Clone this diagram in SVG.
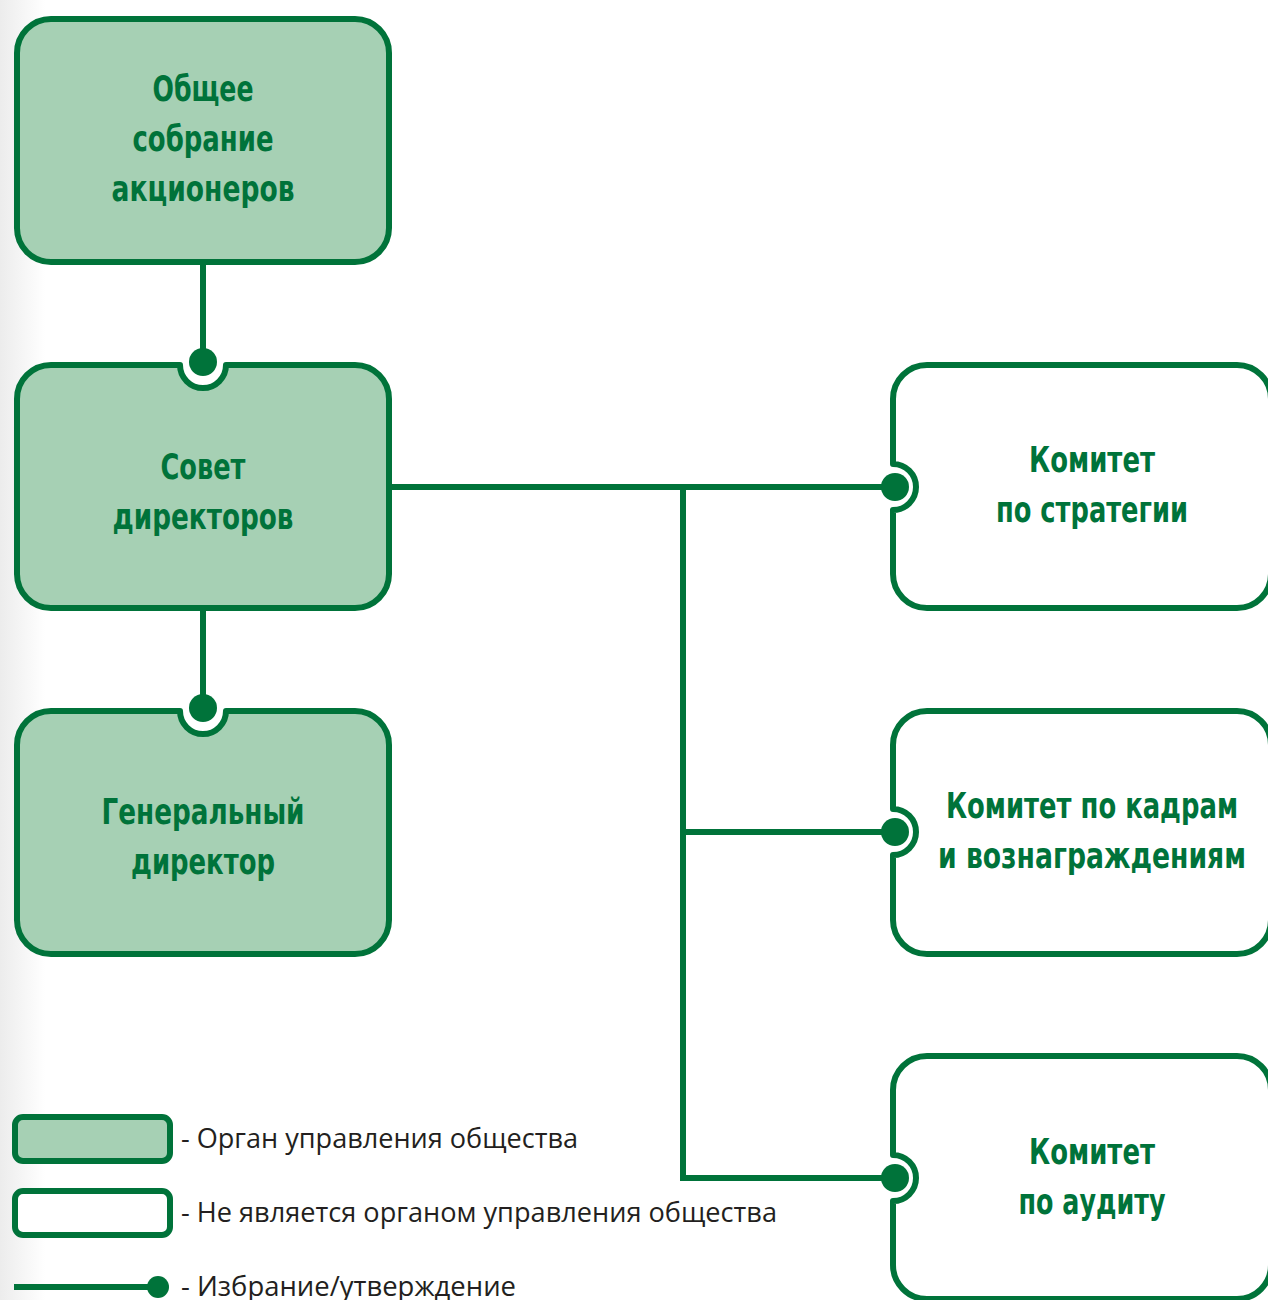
<svg xmlns="http://www.w3.org/2000/svg" width="1268" height="1300" viewBox="0 0 1268 1300">
<defs>
<linearGradient id="bg" x1="0" y1="0" x2="1" y2="0">
<stop offset="0" stop-color="#ececec"/>
<stop offset="1" stop-color="#ffffff"/>
</linearGradient>
<style>
.org{fill:#a6d0b4;stroke:#00733a;stroke-width:6;stroke-linejoin:round}
.com{fill:#ffffff;stroke:#00733a;stroke-width:6;stroke-linejoin:round}
.ln{fill:none;stroke:#00733a;stroke-width:6}
.dot{fill:#00733a}
.t{font-family:"DejaVu Sans Condensed","DejaVu Sans","Liberation Sans",sans-serif;font-stretch:condensed;font-weight:bold;font-size:35px;fill:#00733a;text-anchor:middle}
.lg{font-family:"Open Sans","Liberation Sans",sans-serif;font-size:27px;fill:#231f20}
</style>
</defs>
<rect x="0" y="0" width="45" height="1300" fill="url(#bg)"/>
<rect x="45" y="0" width="1223" height="1300" fill="#ffffff"/>

<g id="connectors">
<line class="ln" x1="203" y1="262" x2="203" y2="362"/>
<line class="ln" x1="203" y1="610" x2="203" y2="708"/>
<line class="ln" x1="392" y1="487" x2="895" y2="487"/>
<line class="ln" x1="683" y1="487" x2="683" y2="1178"/>
<line class="ln" x1="680" y1="832" x2="895" y2="832"/>
<line class="ln" x1="680" y1="1178" x2="895" y2="1178"/>
<circle class="dot" cx="203" cy="362" r="14"/>
<circle class="dot" cx="203" cy="708" r="14"/>
<circle class="dot" cx="895" cy="487" r="14"/>
<circle class="dot" cx="895" cy="832" r="14"/>
<circle class="dot" cx="895" cy="1178" r="14"/>
</g>

<g id="node-shareholders">
<rect class="org" x="17" y="19" width="372" height="243" rx="34"/>
<text class="t" x="203" y="101" textLength="101" lengthAdjust="spacingAndGlyphs">Общее</text>
<text class="t" x="203" y="151" textLength="141" lengthAdjust="spacingAndGlyphs">собрание</text>
<text class="t" x="203" y="201" textLength="183" lengthAdjust="spacingAndGlyphs">акционеров</text>
</g>

<g id="node-board">
<path class="org" d="M51 365 H180 A23 23 0 0 0 226 365 H355 A34 34 0 0 1 389 399 V574 A34 34 0 0 1 355 608 H51 A34 34 0 0 1 17 574 V399 A34 34 0 0 1 51 365 Z"/>
<text class="t" x="203" y="479" textLength="85" lengthAdjust="spacingAndGlyphs">Совет</text>
<text class="t" x="203" y="529" textLength="181" lengthAdjust="spacingAndGlyphs">директоров</text>
</g>

<g id="node-ceo">
<path class="org" d="M51 711 H180 A23 23 0 0 0 226 711 H355 A34 34 0 0 1 389 745 V920 A34 34 0 0 1 355 954 H51 A34 34 0 0 1 17 920 V745 A34 34 0 0 1 51 711 Z"/>
<text class="t" x="203" y="824" textLength="203" lengthAdjust="spacingAndGlyphs">Генеральный</text>
<text class="t" x="203" y="874" textLength="144" lengthAdjust="spacingAndGlyphs">директор</text>
</g>

<g id="node-strategy">
<path class="com" d="M927 365 H1237 A34 34 0 0 1 1271 399 V574 A34 34 0 0 1 1237 608 H927 A34 34 0 0 1 893 574 V510 A23 23 0 0 0 893 464 V399 A34 34 0 0 1 927 365 Z"/>
<text class="t" x="1092" y="472" textLength="126" lengthAdjust="spacingAndGlyphs">Комитет</text>
<text class="t" x="1092" y="522" textLength="192" lengthAdjust="spacingAndGlyphs">по стратегии</text>
</g>

<g id="node-hr">
<path class="com" d="M927 711 H1237 A34 34 0 0 1 1271 745 V920 A34 34 0 0 1 1237 954 H927 A34 34 0 0 1 893 920 V855 A23 23 0 0 0 893 809 V745 A34 34 0 0 1 927 711 Z"/>
<text class="t" x="1092" y="818" textLength="292" lengthAdjust="spacingAndGlyphs">Комитет по кадрам</text>
<text class="t" x="1092" y="868" textLength="308" lengthAdjust="spacingAndGlyphs">и вознаграждениям</text>
</g>

<g id="node-audit">
<path class="com" d="M927 1056 H1237 A34 34 0 0 1 1271 1090 V1265 A34 34 0 0 1 1237 1299 H927 A34 34 0 0 1 893 1265 V1201 A23 23 0 0 0 893 1155 V1090 A34 34 0 0 1 927 1056 Z"/>
<text class="t" x="1092" y="1164" textLength="126" lengthAdjust="spacingAndGlyphs">Комитет</text>
<text class="t" x="1092" y="1214" textLength="147" lengthAdjust="spacingAndGlyphs">по аудиту</text>
</g>

<g id="legend">
<rect class="org" x="15" y="1117" width="155" height="44" rx="8"/>
<text class="lg" x="181" y="1148" textLength="397" lengthAdjust="spacingAndGlyphs">- Орган управления общества</text>
<rect class="com" x="15" y="1191" width="155" height="44" rx="8"/>
<text class="lg" x="181" y="1222" textLength="596" lengthAdjust="spacingAndGlyphs">- Не является органом управления общества</text>
<line class="ln" x1="14" y1="1287" x2="155" y2="1287"/>
<circle class="dot" cx="158" cy="1287" r="11"/>
<text class="lg" x="181" y="1296" textLength="335" lengthAdjust="spacingAndGlyphs">- Избрание/утверждение</text>
</g>
</svg>
